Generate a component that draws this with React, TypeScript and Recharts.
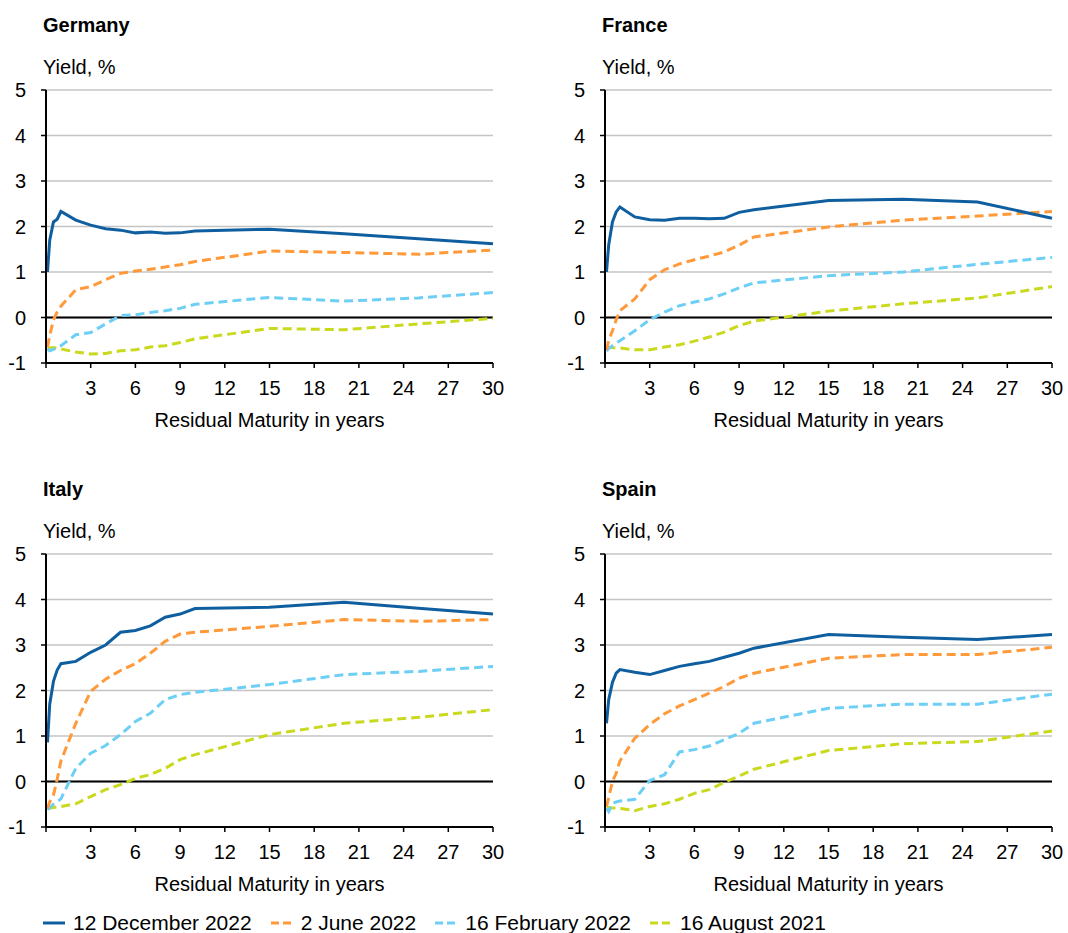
import { CartesianGrid, Line, LineChart, ReferenceLine, XAxis, YAxis } from "recharts";

// residual maturity grid (years) shared by all curves
const MATURITIES = [0.1, 0.25, 0.5, 0.75, 1, 2, 3, 4, 5, 6, 7, 8, 9, 10, 15, 20, 25, 30];
const X_TICKS = [0, 3, 6, 9, 12, 15, 18, 21, 24, 27, 30];
const Y_TICKS = [-1, 0, 1, 2, 3, 4, 5];

// Germany
const DE_DEC22 = [1.0, 1.7, 2.1, 2.16, 2.33, 2.14, 2.03, 1.95, 1.92, 1.86, 1.88, 1.85, 1.86, 1.9, 1.94, 1.84, 1.73, 1.62];
const DE_JUN22 = [-0.65, -0.4, -0.05, 0.12, 0.25, 0.61, 0.68, 0.83, 0.97, 1.02, 1.06, 1.11, 1.16, 1.23, 1.46, 1.43, 1.39, 1.48];
const DE_FEB22 = [-0.69, -0.73, -0.7, -0.66, -0.62, -0.38, -0.33, -0.14, 0.04, 0.06, 0.11, 0.15, 0.2, 0.29, 0.44, 0.36, 0.43, 0.55];
const DE_AUG21 = [-0.68, -0.67, -0.66, -0.67, -0.69, -0.76, -0.8, -0.79, -0.73, -0.71, -0.65, -0.62, -0.55, -0.47, -0.24, -0.27, -0.14, -0.02];

// France
const FR_DEC22 = [1.0, 1.6, 2.1, 2.32, 2.43, 2.21, 2.15, 2.14, 2.18, 2.18, 2.17, 2.18, 2.31, 2.37, 2.57, 2.6, 2.54, 2.18];
const FR_JUN22 = [-0.71, -0.5, -0.29, -0.05, 0.15, 0.41, 0.83, 1.05, 1.18, 1.27, 1.35, 1.44, 1.59, 1.77, 1.99, 2.14, 2.23, 2.33];
const FR_FEB22 = [-0.74, -0.68, -0.62, -0.56, -0.51, -0.29, -0.05, 0.12, 0.26, 0.34, 0.41, 0.52, 0.65, 0.76, 0.92, 1.0, 1.17, 1.32];
const FR_AUG21 = [-0.65, -0.66, -0.66, -0.67, -0.67, -0.71, -0.71, -0.65, -0.6, -0.52, -0.43, -0.32, -0.18, -0.08, 0.14, 0.3, 0.43, 0.68];

// Italy
const IT_DEC22 = [0.86, 1.7, 2.2, 2.45, 2.59, 2.64, 2.84, 3.0, 3.28, 3.32, 3.42, 3.61, 3.68, 3.8, 3.83, 3.94, 3.81, 3.68];
const IT_JUN22 = [-0.59, -0.45, -0.3, 0.05, 0.45, 1.28, 1.98, 2.25, 2.44, 2.59, 2.82, 3.08, 3.24, 3.28, 3.41, 3.56, 3.52, 3.56];
const IT_FEB22 = [-0.62, -0.58, -0.5, -0.45, -0.38, 0.29, 0.62, 0.79, 1.03, 1.32, 1.5, 1.8, 1.91, 1.96, 2.13, 2.35, 2.42, 2.53];
const IT_AUG21 = [-0.59, -0.58, -0.57, -0.56, -0.55, -0.49, -0.33, -0.18, -0.07, 0.07, 0.15, 0.29, 0.48, 0.59, 1.03, 1.28, 1.41, 1.58];

// Spain
const ES_DEC22 = [1.28, 1.8, 2.18, 2.38, 2.46, 2.4, 2.35, 2.44, 2.53, 2.59, 2.64, 2.73, 2.82, 2.93, 3.23, 3.17, 3.12, 3.23];
const ES_JUN22 = [-0.55, -0.35, 0.0, 0.18, 0.45, 0.95, 1.25, 1.49, 1.66, 1.8, 1.94, 2.09, 2.27, 2.38, 2.71, 2.79, 2.79, 2.95];
const ES_FEB22 = [-0.59, -0.66, -0.48, -0.45, -0.43, -0.39, 0.02, 0.15, 0.65, 0.7, 0.78, 0.92, 1.06, 1.28, 1.61, 1.7, 1.7, 1.92];
const ES_AUG21 = [-0.57, -0.57, -0.58, -0.58, -0.59, -0.64, -0.55, -0.49, -0.39, -0.26, -0.18, -0.02, 0.12, 0.27, 0.68, 0.83, 0.88, 1.11];

const SERIES = [
  { key: "dec22", name: "12 December 2022", color: "#0f5fa0", dash: undefined },
  { key: "jun22", name: "2 June 2022", color: "#ff993a", dash: "9 5" },
  { key: "feb22", name: "16 February 2022", color: "#6dcff6", dash: "9 5" },
  { key: "aug21", name: "16 August 2021", color: "#c9d91e", dash: "9 5" },
];

function buildRows(values: number[][]) {
  return MATURITIES.map((m, i) => {
    const row: Record<string, number> = { m };
    SERIES.forEach((s, j) => {
      row[s.key] = values[j][i];
    });
    return row;
  });
}

const PANELS = [
  { title: "Germany", left: 0, top: 0, data: buildRows([DE_DEC22, DE_JUN22, DE_FEB22, DE_AUG21]) },
  { title: "France", left: 559, top: 0, data: buildRows([FR_DEC22, FR_JUN22, FR_FEB22, FR_AUG21]) },
  { title: "Italy", left: 0, top: 464, data: buildRows([IT_DEC22, IT_JUN22, IT_FEB22, IT_AUG21]) },
  { title: "Spain", left: 559, top: 464, data: buildRows([ES_DEC22, ES_JUN22, ES_FEB22, ES_AUG21]) },
];

const FONT = '"Liberation Sans", Arial, sans-serif';

function Panel({ title, left, top, data }: { title: string; left: number; top: number; data: Record<string, number>[] }) {
  return (
    <div style={{ position: "absolute", left, top, width: 509, height: 440 }}>
      <div style={{ position: "absolute", left: 43, top: 13, fontSize: 20, fontWeight: 700, lineHeight: "24px" }}>{title}</div>
      <div style={{ position: "absolute", left: 43, top: 55, fontSize: 20, lineHeight: "24px" }}>Yield, %</div>
      <LineChart width={509} height={440} data={data} margin={{ top: 90, right: 16, bottom: 47, left: 0 }}>
        <CartesianGrid vertical={false} stroke="#c4c4c4" strokeWidth={1.5} />
        <XAxis
          dataKey="m"
          type="number"
          domain={[0, 30]}
          ticks={X_TICKS}
          interval={0}
          height={30}
          tickSize={5}
          tickMargin={13}
          tickFormatter={(v: number) => (v === 0 ? "" : String(v))}
          axisLine={{ stroke: "#000", strokeWidth: 2 }}
          tickLine={{ stroke: "#000", strokeWidth: 1.5 }}
          tick={{ fill: "#000", fontSize: 20 }}
        />
        <YAxis
          domain={[-1, 5]}
          ticks={Y_TICKS}
          interval={0}
          width={46}
          tickSize={5}
          tickMargin={15}
          axisLine={{ stroke: "#000", strokeWidth: 2 }}
          tickLine={{ stroke: "#000", strokeWidth: 1.5 }}
          tick={{ fill: "#000", fontSize: 20 }}
        />
        <ReferenceLine y={0} stroke="#000" strokeWidth={2} />
        {SERIES.slice().reverse().map((s) => (
          <Line
            key={s.key}
            dataKey={s.key}
            name={s.name}
            type="linear"
            stroke={s.color}
            strokeWidth={3}
            strokeDasharray={s.dash}
            dot={false}
            activeDot={false}
            isAnimationActive={false}
          />
        ))}
      </LineChart>
      <div style={{ position: "absolute", left: 46, width: 447, top: 408, fontSize: 20, lineHeight: "24px", textAlign: "center" }}>
        Residual Maturity in years
      </div>
    </div>
  );
}

export default function App() {
  return (
    <div style={{ position: "absolute", left: 0, top: 0, width: 1068, height: 933, background: "#fff", fontFamily: FONT, color: "#000", overflow: "hidden" }}>
      {PANELS.map((p) => (
        <Panel key={p.title} {...p} />
      ))}
      <div style={{ position: "absolute", left: 43, top: 910, height: 26, display: "flex", alignItems: "center", gap: 19, fontSize: 21 }}>
        {SERIES.map((s) => (
          <div key={s.key} style={{ display: "flex", alignItems: "center", gap: 8 }}>
            <svg width={22} height={6}>
              <line x1={0} y1={3} x2={22} y2={3} stroke={s.color} strokeWidth={3} strokeDasharray={s.dash ? "8 4" : undefined} />
            </svg>
            <span>{s.name}</span>
          </div>
        ))}
      </div>
    </div>
  );
}
